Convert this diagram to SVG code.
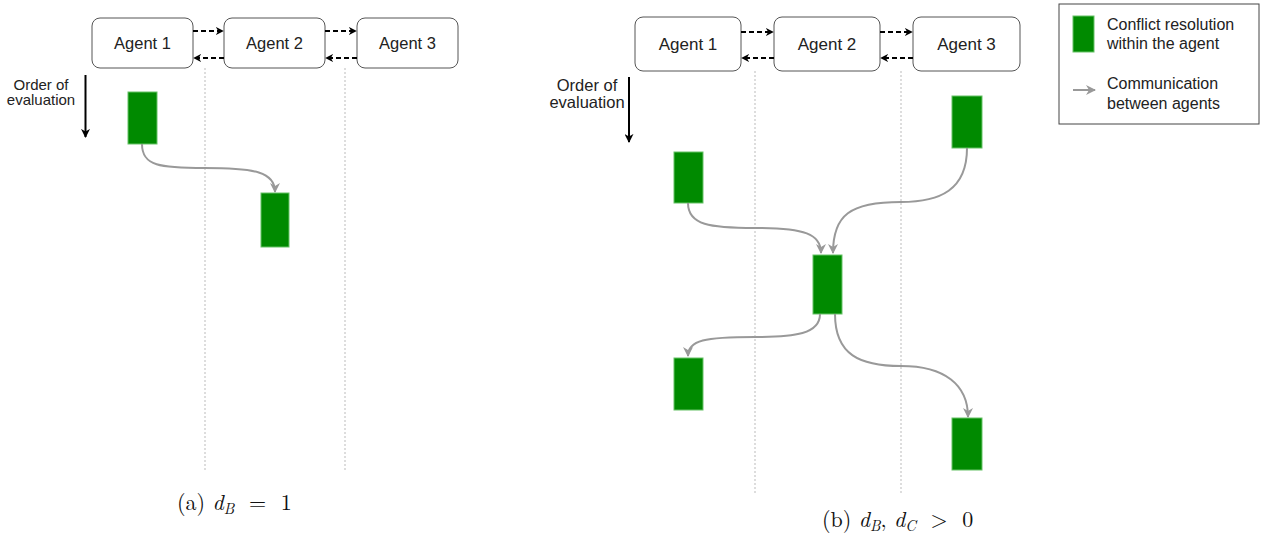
<svg xmlns="http://www.w3.org/2000/svg" width="1265" height="542" viewBox="0 0 1265 542">
<defs>
<style>
.agent rect{fill:#fff;stroke:#555;stroke-width:1}
.agent text,.lbl{font-family:"Liberation Sans",Arial,sans-serif;fill:#222}
.agent text{font-size:16.5px;text-anchor:middle}
.lbl{font-size:16px}
.cr{fill:#008a00;stroke:#66c266;stroke-width:1}
.dash{stroke:#000;stroke-width:2;stroke-dasharray:5 3;fill:none}
.guide{stroke:#bbb;stroke-width:1;stroke-dasharray:2 2;fill:none}
.comm{stroke:#999;stroke-width:2;fill:none}
.cap{font-family:"Latin Modern Roman","Liberation Serif","Times New Roman",serif;font-size:22px;fill:#111}
</style>
<marker id="ah" viewBox="0 0 10 10" refX="9" refY="5" markerWidth="8" markerHeight="8" orient="auto" markerUnits="userSpaceOnUse">
<path d="M0,0 L10,5 L0,10 L3,5 z" fill="#000"/>
</marker>
<marker id="ahg" viewBox="0 0 10 10" refX="9" refY="5" markerWidth="10" markerHeight="10" orient="auto" markerUnits="userSpaceOnUse">
<path d="M0,0 L10,5 L0,10 L3,5 z" fill="#999"/>
</marker>
<marker id="ahb" viewBox="0 0 10 10" refX="9" refY="5" markerWidth="9" markerHeight="9" orient="auto" markerUnits="userSpaceOnUse">
<path d="M0,0 L10,5 L0,10 L3,5 z" fill="#000"/>
</marker>
</defs>
<rect width="1265" height="542" fill="#fff"/>

<g id="guides">
<line class="guide" x1="205" y1="68" x2="205" y2="472"/>
<line class="guide" x1="345" y1="68" x2="345" y2="472"/>
<line class="guide" x1="755" y1="71" x2="755" y2="495"/>
<line class="guide" x1="901" y1="71" x2="901" y2="495"/>
</g>

<g id="a-agent1" class="agent"><rect x="92" y="18" width="101" height="50" rx="8"/><text x="142.5" y="49">Agent 1</text></g>
<g id="a-agent2" class="agent"><rect x="224" y="18" width="101" height="50" rx="8"/><text x="274.5" y="49">Agent 2</text></g>
<g id="a-agent3" class="agent"><rect x="357" y="18" width="101" height="50" rx="8"/><text x="407.5" y="49">Agent 3</text></g>
<g id="a-order">
<text class="lbl" x="41" y="90" text-anchor="middle" style="font-size:15px">Order of</text>
<text class="lbl" x="41" y="105" text-anchor="middle" style="font-size:15px">evaluation</text>
<line x1="85.5" y1="75" x2="85.5" y2="137" stroke="#000" stroke-width="2" marker-end="url(#ahb)"/>
</g>
<g id="a-cr1"><rect class="cr" x="128" y="92" width="29" height="52"/></g>
<g id="a-cr2"><rect class="cr" x="261" y="193" width="28" height="54"/></g>

<g id="b-agent1" class="agent"><rect x="635" y="17" width="106" height="54" rx="8"/><text x="688" y="50" style="font-size:17px">Agent 1</text></g>
<g id="b-agent2" class="agent"><rect x="774" y="17" width="106" height="54" rx="8"/><text x="827" y="50" style="font-size:17px">Agent 2</text></g>
<g id="b-agent3" class="agent"><rect x="913" y="17" width="107" height="54" rx="8"/><text x="966.5" y="50" style="font-size:17px">Agent 3</text></g>
<g id="b-order">
<text class="lbl" x="587" y="91" text-anchor="middle" style="font-size:16.5px">Order of</text>
<text class="lbl" x="587" y="108" text-anchor="middle" style="font-size:16.5px">evaluation</text>
<line x1="629" y1="77" x2="629" y2="142" stroke="#000" stroke-width="2" marker-end="url(#ahb)"/>
</g>
<g id="b-cr1"><rect class="cr" x="674" y="152" width="29" height="51"/></g>
<g id="b-cr3"><rect class="cr" x="952" y="96" width="30" height="52"/></g>
<g id="b-cr2"><rect class="cr" x="813" y="255" width="29" height="59"/></g>
<g id="b-cr4"><rect class="cr" x="674" y="358" width="29" height="52"/></g>
<g id="b-cr5"><rect class="cr" x="952" y="418" width="30" height="52"/></g>

<g id="legend">
<rect x="1059" y="4" width="200" height="120" fill="#fff" stroke="#444" stroke-width="1"/>
<rect class="cr" x="1073" y="16" width="21" height="36"/>
<text class="lbl" x="1107" y="30">Conflict resolution</text>
<text class="lbl" x="1107" y="49">within the agent</text>
<line x1="1073" y1="90" x2="1095" y2="90" class="comm" stroke-width="1.5" marker-end="url(#ahg)"/>
<text class="lbl" x="1107" y="89">Communication</text>
<text class="lbl" x="1107" y="109">between agents</text>
</g>

<g id="connectors">
<line class="dash" x1="193" y1="31" x2="223" y2="31" marker-end="url(#ah)"/>
<line class="dash" x1="224" y1="58" x2="194" y2="58" marker-end="url(#ah)"/>
<line class="dash" x1="325" y1="31" x2="356" y2="31" marker-end="url(#ah)"/>
<line class="dash" x1="357" y1="58" x2="326" y2="58" marker-end="url(#ah)"/>
<line class="dash" x1="741" y1="32" x2="773" y2="32" marker-end="url(#ah)"/>
<line class="dash" x1="774" y1="58" x2="742" y2="58" marker-end="url(#ah)"/>
<line class="dash" x1="880" y1="32" x2="912" y2="32" marker-end="url(#ah)"/>
<line class="dash" x1="913" y1="58" x2="881" y2="58" marker-end="url(#ah)"/>

<path class="comm" d="M142,144 C142,166 160,168 205,168 C255,168 275,172 275,192" marker-end="url(#ahg)"/>
<path class="comm" d="M688,203 C688,225 710,228 755,228 C805,228 821,234 821,253" marker-end="url(#ahg)"/>
<path class="comm" d="M967,148 C967,190 940,202 901,202 C850,202 833,215 833,253" marker-end="url(#ahg)"/>
<path class="comm" d="M820,314 C820,334 795,337 755,337 C705,337 688,340 688,356" marker-end="url(#ahg)"/>
<path class="comm" d="M835,314 C835,355 860,366 901,366 C945,366 968,385 968,417" marker-end="url(#ahg)"/>
</g>

<text class="cap" x="177" y="510">(a) <tspan font-style="italic">d</tspan><tspan font-style="italic" font-size="15" dy="4">B</tspan><tspan dy="-4" xml:space="preserve">  =  1</tspan></text>
<text class="cap" x="822" y="527">(b) <tspan font-style="italic">d</tspan><tspan font-style="italic" font-size="15" dy="4">B</tspan><tspan dy="-4" xml:space="preserve">, </tspan><tspan font-style="italic">d</tspan><tspan font-style="italic" font-size="15" dy="4">C</tspan><tspan dy="-4" xml:space="preserve">  &gt;  0</tspan></text>
</svg>
